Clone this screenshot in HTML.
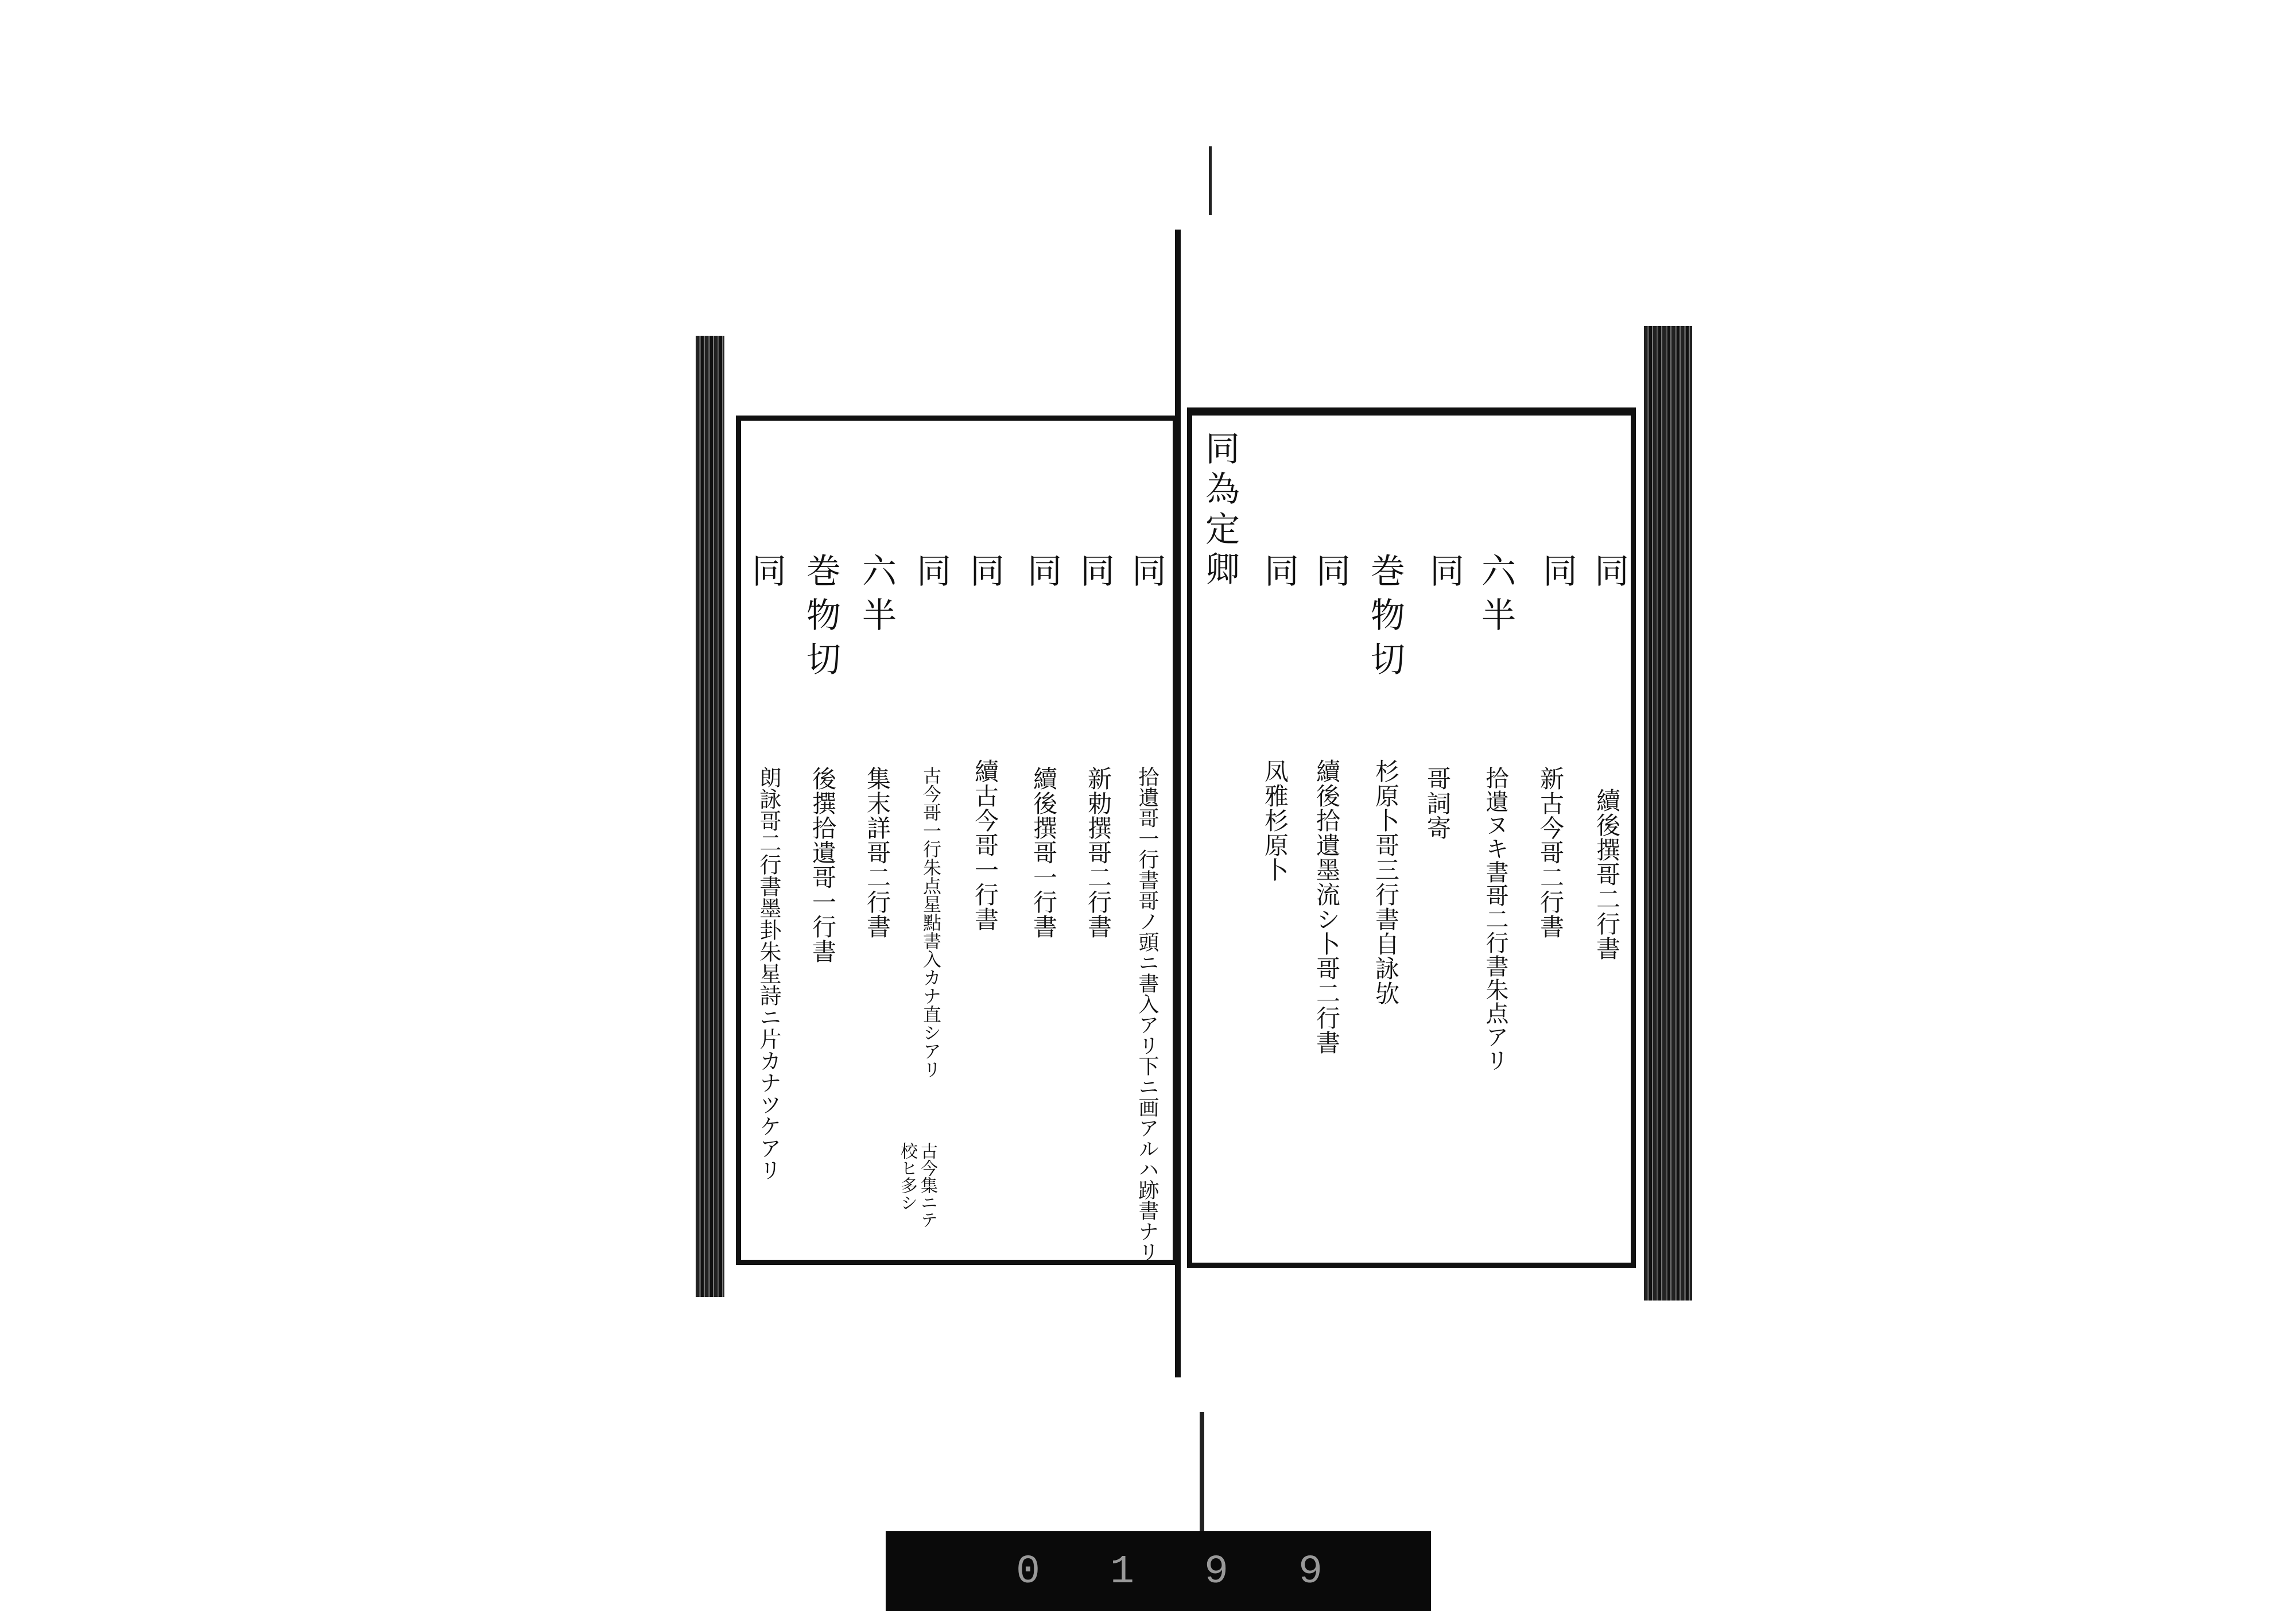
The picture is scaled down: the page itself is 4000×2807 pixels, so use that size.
<!DOCTYPE html>
<html><head><meta charset="utf-8">
<style>
html,body{margin:0;padding:0;background:#fff;}
body{width:4000px;height:2807px;position:relative;overflow:hidden;font-family:"Liberation Serif","Noto Serif CJK SC","Noto Sans CJK JP",serif;color:#111;}
.a{position:absolute;}
.v{position:absolute;writing-mode:vertical-rl;white-space:nowrap;line-height:1;}
.b{font-size:60px;letter-spacing:17px;}
.s{font-size:42px;letter-spacing:1px;}
.strip{background:repeating-linear-gradient(90deg,#222 0 6px,#555 6px 9px,#111 9px 14px,#777 14px 16px);}
</style></head><body>
<div class="a" style="left:2106px;top:255px;width:5px;height:120px;background:#222"></div>
<div class="a" style="left:2047px;top:400px;width:10px;height:2000px;background:#111"></div>
<div class="a" style="left:2090px;top:2460px;width:8px;height:210px;background:#222"></div>
<div class="a strip" style="left:1212px;top:585px;width:50px;height:1675px"></div>
<div class="a strip" style="left:2864px;top:568px;width:84px;height:1698px"></div>
<div class="a" style="left:1282px;top:724px;width:752px;height:1462px;border:9px solid #111"></div>
<div class="a" style="left:2068px;top:710px;width:764px;height:1476px;border:9px solid #111;border-top-width:14px"></div>
<div class="a" style="left:1543px;top:2668px;width:950px;height:139px;background:#0a0a0a"></div>
<div class="a" style="left:1770px;top:2700px;font-size:70px;color:#999;letter-spacing:40px;font-family:'Liberation Mono',monospace">0 1 9 9</div>

<div class="v b" style="left:2773px;top:963px">同</div>
<div class="v b" style="left:2683px;top:963px">同</div>
<div class="v b" style="left:2576px;top:963px">六半</div>
<div class="v b" style="left:2486px;top:963px">同</div>
<div class="v b" style="left:2383px;top:963px">巻物切</div>
<div class="v b" style="left:2288px;top:963px">同</div>
<div class="v b" style="left:2198px;top:963px">同</div>
<div class="v b" style="left:2095px;top:750px;letter-spacing:10px">同為定卿</div>
<div class="v s" style="left:2777px;top:1373px">續後撰哥二行書</div>
<div class="v s" style="left:2679px;top:1335px">新古今哥二行書</div>
<div class="v s" style="left:2585px;top:1335px;font-size:40px">拾遺ヌキ書哥二行書朱点アリ</div>
<div class="v s" style="left:2482px;top:1335px">哥詞寄</div>
<div class="v s" style="left:2392px;top:1322px">杉原卜哥三行書自詠欤</div>
<div class="v s" style="left:2289px;top:1322px">續後拾遺墨流シ卜哥二行書</div>
<div class="v s" style="left:2199px;top:1322px">凤雅杉原卜</div>
<div class="v b" style="left:1967px;top:963px">同</div>
<div class="v b" style="left:1877px;top:963px">同</div>
<div class="v b" style="left:1785px;top:963px">同</div>
<div class="v b" style="left:1685px;top:963px">同</div>
<div class="v b" style="left:1592px;top:963px">同</div>
<div class="v b" style="left:1497px;top:963px">六半</div>
<div class="v b" style="left:1400px;top:963px">巻物切</div>
<div class="v b" style="left:1305px;top:963px">同</div>
<div class="v s" style="left:1981px;top:1335px;font-size:36px;letter-spacing:0">拾遺哥一行書哥ノ頭ニ書入アリ下ニ画アルハ跡書ナリ</div>
<div class="v s" style="left:1891px;top:1335px">新勅撰哥二行書</div>
<div class="v s" style="left:1796px;top:1335px">續後撰哥一行書</div>
<div class="v s" style="left:1694px;top:1322px">續古今哥一行書</div>
<div class="v s" style="left:1606px;top:1335px;font-size:32px;letter-spacing:0">古今哥一行朱点星點書入カナ直シアリ</div>
<div class="v s" style="left:1600px;top:1990px;font-size:30px;letter-spacing:0">古今集ニテ</div>
<div class="v s" style="left:1565px;top:1990px;font-size:30px;letter-spacing:0">校ヒ多シ</div>
<div class="v s" style="left:1506px;top:1335px">集末詳哥二行書</div>
<div class="v s" style="left:1411px;top:1335px">後撰拾遺哥一行書</div>
<div class="v s" style="left:1319px;top:1335px;font-size:38px;letter-spacing:0">朗詠哥二行書墨卦朱星詩ニ片カナツケアリ</div>
</body></html>
